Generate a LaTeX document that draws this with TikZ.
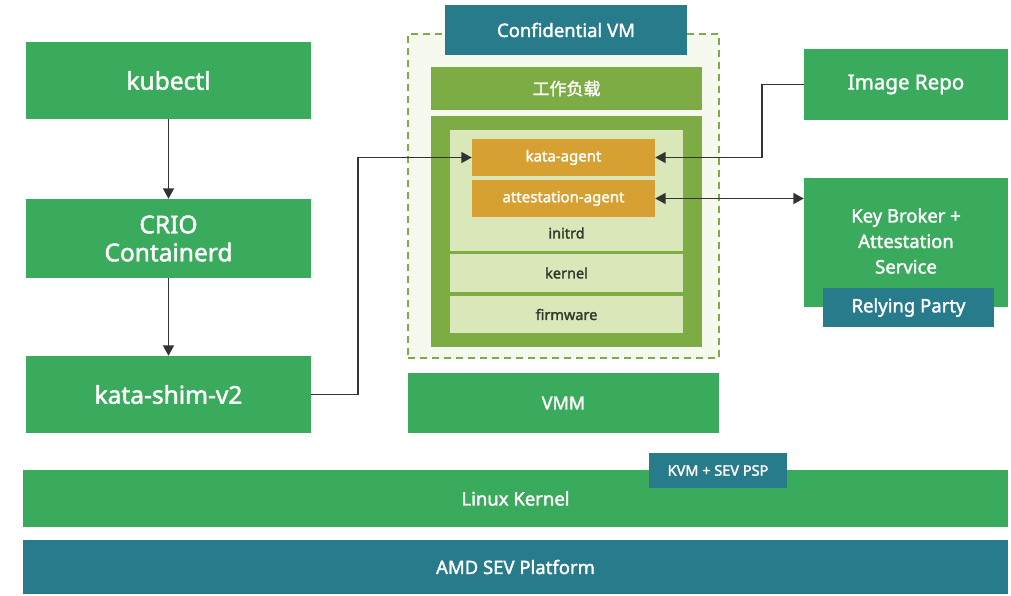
\documentclass[tikz,border=0pt]{standalone}
\usepackage{fontspec}
\setmainfont{Noto Sans}[FakeBold=1.8]
\newfontfamily\cjk{Noto Sans CJK SC}[FakeBold=1.5]
\usepackage{tikz}
\usetikzlibrary{arrows.meta, positioning, calc}
\definecolor{boxgreen}{RGB}{58,170,92}
\definecolor{sevteal}{RGB}{39,123,139}
\definecolor{vmolive}{RGB}{126,172,68}
\definecolor{vmlight}{RGB}{217,231,185}
\definecolor{vmpale}{RGB}{245,249,238}
\definecolor{agentorange}{RGB}{214,160,50}
\definecolor{darktext}{RGB}{52,56,44}
\definecolor{arrowgray}{RGB}{51,51,51}

\begin{document}
\begin{tikzpicture}[
    x=1pt, y=-1pt,
    box/.style={rectangle, inner sep=0pt, text=white, align=center},
    host/.style={box, fill=boxgreen, minimum width=285pt, font=\fontsize{24.5}{28}\selectfont},
    side/.style={box, fill=boxgreen, minimum width=204pt, font=\fontsize{18.5}{25.5}\selectfont},
    tealbox/.style={box, fill=sevteal},
    layer/.style={box, fill=vmlight, text=darktext, minimum width=233pt, font=\fontsize{14.5}{17}\selectfont},
    agent/.style={box, fill=agentorange, minimum width=183pt, minimum height=37pt, font=\fontsize{15}{18}\selectfont},
    arr/.style={-{Triangle[length=10.5pt,width=11pt]}, line width=1.8pt, arrowgray},
    darr/.style={{Triangle[length=10.5pt,width=11pt]}-{Triangle[length=10.5pt,width=11pt]}, line width=1.8pt, arrowgray}
]
\useasboundingbox (0,0) rectangle (1011,595);

% host side
\node[host, minimum height=77pt] (kubectl) at (168.5,80.5) {kubectl};
\node[host, minimum height=79pt] (crio) at (168.5,238.5) {CRIO\\Containerd};
\node[host, minimum height=77pt] (shim) at (168.5,394.5) {kata-shim-v2};

% confidential vm
\node[rectangle, draw=vmolive, fill=vmpale, line width=2pt, dash pattern=on 7pt off 5pt,
      minimum width=311pt, minimum height=324pt] (cvm) at (563.5,196) {};
\node[tealbox, minimum width=242pt, minimum height=50pt, font=\fontsize{18.5}{22}\selectfont] (cvmlabel) at (566,30) {Confidential VM};
\node[box, fill=vmolive, minimum width=271pt, minimum height=43pt, font=\cjk\fontsize{17}{20}\selectfont] (workload) at (566.5,88.5) {工作负载};
\node[box, fill=vmolive, minimum width=271pt, minimum height=231pt] (guest) at (566.5,231.5) {};
\node[layer, minimum height=121pt] (initrd) at (566.5,190.5) {};
\node[box, text=darktext, font=\fontsize{14.5}{17}\selectfont] (initrdlabel) at (566.5,233) {initrd};
\node[layer, minimum height=38pt] (kernel) at (566.5,273) {kernel};
\node[layer, minimum height=37pt] (firmware) at (566.5,314.5) {firmware};
\node[agent] (kata) at (563.5,157.5) {kata-agent};
\node[agent] (attest) at (563.5,198.5) {attestation-agent};
\node[box, fill=boxgreen, minimum width=311pt, minimum height=60pt, font=\fontsize{18}{22}\selectfont] (vmm) at (563.5,403) {VMM};

% remote services
\node[side, minimum height=71pt, font=\fontsize{20.5}{24}\selectfont] (repo) at (906,84.5) {Image Repo};
\node[side, minimum height=129pt] (kbs) at (906,242.5) {};
\node[box, font=\fontsize{18.5}{25.5}\selectfont] (kbslabel) at (906,241) {Key Broker +\\Attestation\\Service};
\node[tealbox, minimum width=171pt, minimum height=39pt, font=\fontsize{18.5}{22}\selectfont] (relying) at (908.5,307.5) {Relying Party};

% platform
\node[box, fill=boxgreen, minimum width=985pt, minimum height=57pt, font=\fontsize{18.5}{22}\selectfont] (linux) at (515.5,498.5) {Linux Kernel};
\node[tealbox, minimum width=138pt, minimum height=35pt, font=\fontsize{14.5}{17}\selectfont] (kvm) at (718,470.5) {KVM + SEV PSP};
\node[tealbox, minimum width=985pt, minimum height=54pt, font=\fontsize{18.5}{22}\selectfont] (amd) at (515.5,567) {AMD SEV Platform};

\draw[arr] (kubectl) -- (crio);
\draw[arr] (crio) -- (shim);
\draw[arr] (shim.east) -- ([xshift=47pt]shim.east) |- (kata.west);
\draw[arr] (repo.west) -- ([xshift=-42pt]repo.west) |- (kata.east);
\draw[darr] (attest.east) -- (attest.east -| kbs.west);
\end{tikzpicture}
\end{document}
